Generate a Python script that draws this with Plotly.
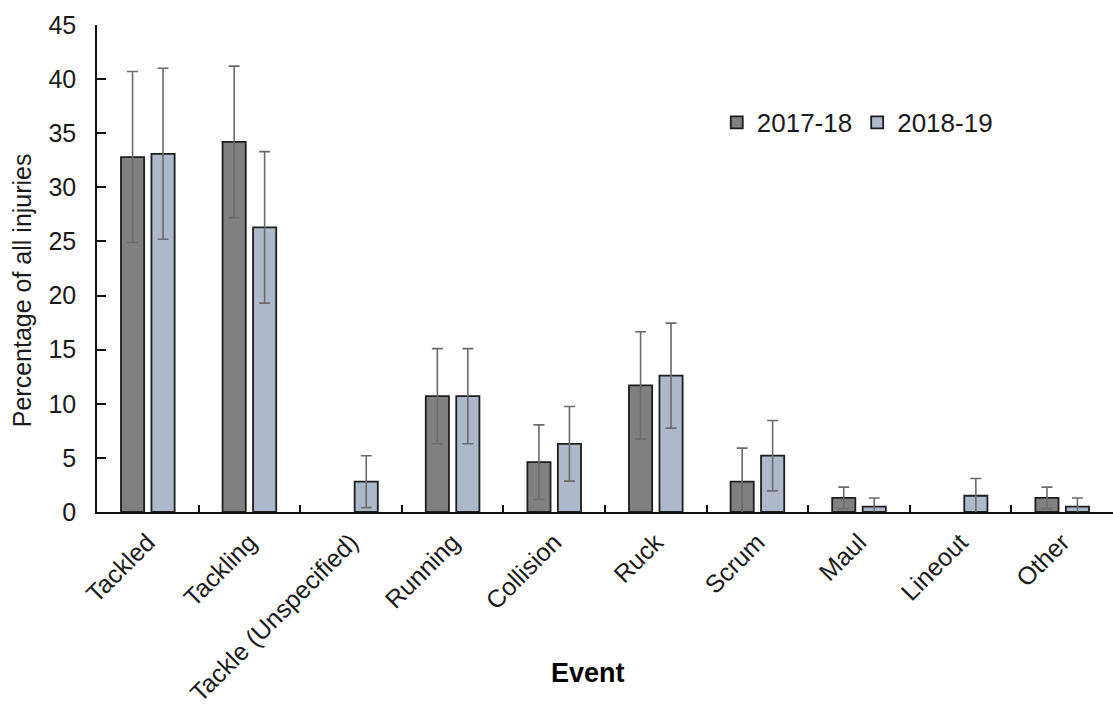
import plotly.graph_objects as go

# Injury event categories
events = ["Tackled", "Tackling", "Tackle (Unspecified)", "Running", "Collision",
          "Ruck", "Scrum", "Maul", "Lineout", "Other"]

# Percentage of all injuries per season (None = no injuries recorded)
pct_2017 = [32.8, 34.2, None, 10.7, 4.6, 11.7, 2.8, 1.3, None, 1.3]
pct_2018 = [33.1, 26.3, 2.8, 10.7, 6.3, 12.6, 5.2, 0.5, 1.5, 0.5]

# 95% confidence interval half-widths
ci_2017 = [7.9, 7.0, None, 4.4, 3.45, 4.95, 3.1, 1.0, None, 1.0]
ci_2018 = [7.9, 7.0, 2.4, 4.4, 3.45, 4.85, 3.25, 0.8, 1.6, 0.8]

y_ticks = [0, 5, 10, 15, 20, 25, 30, 35, 40, 45]

FONT = "Liberation Sans, Arial, sans-serif"
TEXT = "#1a1a1a"

def err(vals):
    return dict(type="data", array=vals, visible=True, color="#6b6b6b",
                thickness=1.6, width=5.5)

fig = go.Figure()
fig.add_trace(go.Bar(
    name="2017-18", x=events, y=pct_2017, error_y=err(ci_2017),
    marker=dict(color="#808080", line=dict(color="#1e1e1e", width=1.8)),
))
fig.add_trace(go.Bar(
    name="2018-19", x=events, y=pct_2018, error_y=err(ci_2018),
    marker=dict(color="#adb9cb", line=dict(color="#1e1e1e", width=1.8)),
))

fig.update_layout(
    width=1113, height=709,
    margin=dict(l=97, r=0, t=25, b=197),
    paper_bgcolor="white", plot_bgcolor="white",
    barmode="group", bargap=0.4, bargroupgap=0.24,
    font=dict(family=FONT, size=24, color=TEXT),
    showlegend=True,
    legend=dict(orientation="h", x=0.61, y=0.80, xanchor="left", yanchor="middle",
                font=dict(size=26, color=TEXT), bgcolor="rgba(0,0,0,0)",
                itemwidth=30, traceorder="normal"),
    xaxis=dict(
        type="category", range=[-0.5, 9.5], showgrid=False, automargin=False,
        showline=True, linecolor="#111", linewidth=1.6,
        ticks="inside", tickson="boundaries", ticklen=7, tickwidth=1.6,
        tickcolor="#111", tickangle=-45, tickfont=dict(size=25, color=TEXT),
        ticklabelstandoff=4,
    ),
    yaxis=dict(
        range=[0, 45], tickvals=y_ticks, showgrid=False, zeroline=False,
        automargin=False,
        showline=True, linecolor="#111", linewidth=1.6,
        ticks="inside", ticklen=9, tickwidth=1.6, tickcolor="#111",
        tickfont=dict(size=25, color=TEXT), ticklabelstandoff=14,
    ),
    annotations=[
        dict(text="Percentage of all injuries", textangle=-90, showarrow=False,
             xref="paper", yref="paper", x=-0.073, y=0.455,
             xanchor="center", yanchor="middle", font=dict(size=25, color=TEXT)),
        dict(text="<b>Event</b>", showarrow=False, xref="paper", yref="paper",
             x=0.483, y=-0.331, xanchor="center", yanchor="middle",
             font=dict(size=27, color="#000")),
    ],
)

fig.write_html("out.html")
